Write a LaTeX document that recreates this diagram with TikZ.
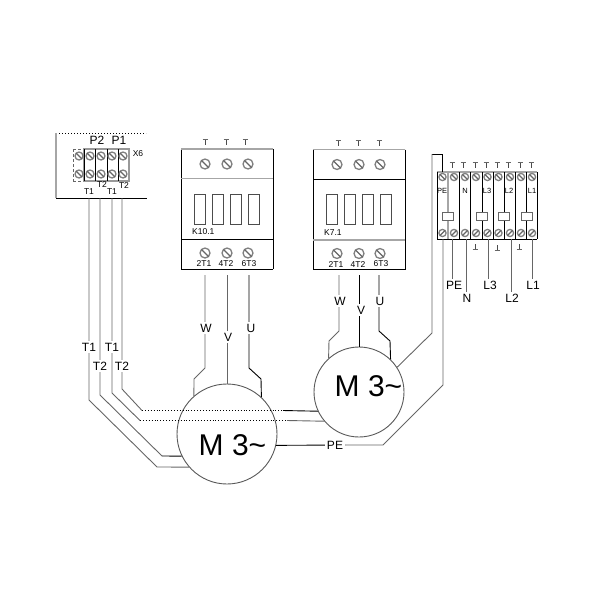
\documentclass[tikz,border=0pt]{standalone}
\usepackage{fontspec}
\setmainfont{Liberation Sans}
\tikzstyle{wiredark} = [black!60,line width=0.9pt]
\tikzstyle{wireblack} = [black,line width=0.9pt]
\tikzstyle{wiredots} = [black,line width=0.9pt,dotted]
\tikzstyle{edgegray} = [black!35,line width=1.5pt]
\tikzstyle{edgeblack} = [black,line width=1pt]
\tikzstyle{divider top} = [edgegray]
\tikzstyle{divider bottom} = [edgeblack]
\tikzstyle{wirelabel} = [fill=white,inner sep=1.5pt,font=\fontsize{12}{12}\selectfont]
\tikzstyle{tinylabel} = [inner sep=0pt,font=\fontsize{8.5}{9}\selectfont]
\tikzstyle{striplabel} = [inner sep=0pt,font=\fontsize{7.5}{8}\selectfont]
\tikzstyle{motor} = [circle,draw=black!65,fill=white,line width=0.9pt,inner sep=0pt]
\tikzstyle{motorlabel} = [inner sep=0pt,anchor=base west,font=\fontsize{30}{30}\selectfont]
\tikzstyle{fliphorz} = [xscale=-1]
\newcommand{\screw}[2][]{
 \begin{scope}[shift={(#2)},#1]
  \filldraw[black!50,fill=white,line width=1.3pt] (0,0) circle (5);
  \draw[black!60,line width=1.1pt] (-3.5,-3.5) -- (3.5,3.5);
 \end{scope}
}
\newcommand{\tick}[1]{
 \begin{scope}[shift={(#1)}]
  \draw[black!70,line width=0.8pt] (0,0) -- (0,6);
  \draw[black!60,line width=0.7pt] (-2.5,0.5) -- (2.5,0.5);
 \end{scope}
}
\newcommand{\foot}[1]{
 \begin{scope}[shift={(#1)}]
  \draw[black!70,line width=0.8pt] (0,0) -- (0,5);
  \draw[black!60,line width=0.7pt] (-2.5,5) -- (2.5,5);
 \end{scope}
}
\newcommand{\contactor}[4][]{
 \begin{scope}[shift={(#4)},#1]
  \draw[edgeblack] (0,0) -- (0,120);
  \draw[edgeblack] (92,0) -- (92,120);
  \draw[edgegray] (0,0) -- (92,0);
  \draw[edgeblack] (0,120) -- (92,120);
  \draw[divider top] (0,29.5) -- (92,29.5);
  \draw[divider bottom] (0,90.5) -- (92,90.5);
  \screw{24,15} \screw{46,15} \screw{67,15}
  \screw{24,104} \screw{46,104} \screw{67,104}
  \draw[black!70,line width=0.8pt] (13.5,45) rectangle (24.5,75);
  \draw[black!70,line width=0.8pt] (31.5,45) rectangle (42.5,75);
  \draw[black!70,line width=0.8pt] (49.5,45) rectangle (60.5,75);
  \draw[black!70,line width=0.8pt] (67.5,45) rectangle (78.5,75);
  \node[tinylabel,anchor=west] (#2 name) at (11,83) {#3};
  \node[tinylabel] (#2 a) at (23,115) {2T1};
  \node[tinylabel] (#2 b) at (45,115) {4T2};
  \node[tinylabel] (#2 c) at (68,114.5) {6T3};
 \end{scope}
}
\begin{document}
\begin{tikzpicture}[x=1pt,y=-1pt]
    \useasboundingbox (0,0) rectangle (600,600);

    % terminal block
    \draw[black,line width=1pt,dotted] (56,133) -- (146,133);
    \draw[edgegray] (56,133) -- (56,198);
    \draw[edgeblack] (56,198) -- (147,198);
    \draw[black!60,line width=0.9pt,densely dashed] (73,149) -- (73,181);
    \draw[black!60,line width=0.9pt,densely dashed] (73,149) -- (84,149);
    \draw[black!60,line width=0.9pt,densely dashed] (73,181) -- (84,181);
    \draw[black!40,line width=1.2pt] (84,149) rectangle (129,181);
    \draw[black,line width=1pt] (84,149) -- (84,181);
    \draw[black,line width=1pt] (95,149) -- (95,181);
    \draw[black,line width=1pt] (107,149) -- (107,181);
    \draw[black,line width=1pt] (118,149) -- (118,181);
    \screw[scale=0.8]{79,156} \screw[scale=0.8]{90,156} \screw[scale=0.8]{101,156} \screw[scale=0.8]{112,156} \screw[scale=0.8]{123,156}
    \screw[scale=0.8]{79,174} \screw[scale=0.8]{90,174} \screw[scale=0.8]{101,174} \screw[scale=0.8]{112,174} \screw[scale=0.8]{123,174}
    \node[wirelabel,fill=none,inner sep=0pt] (ptwo) at (97,140) {P2};
    \node[wirelabel,fill=none,inner sep=0pt] (pone) at (119,140) {P1};
    \node[tinylabel] (xsix) at (138,154) {X6};
    \node[tinylabel] (ttwoa) at (102,185) {T2};
    \node[tinylabel] (ttwob) at (124,186) {T2};
    \node[tinylabel] (tonea) at (89,192) {T1};
    \node[tinylabel] (toneb) at (112,192) {T1};
    \coordinate (outa) at (89,198);
    \coordinate (outb) at (100,198);
    \coordinate (outc) at (112,198);
    \coordinate (outd) at (122,198);

    % contactors
    \tick{205,139} \tick{226,139} \tick{245,139}
    \tikzstyle{divider top} = [edgegray] \tikzstyle{divider bottom} = [edgeblack]
     \contactor{kten}{K10.1}{181,149}
    \tick{338,140} \tick{358,140} \tick{379,140}
    \tikzstyle{divider top} = [edgeblack] \tikzstyle{divider bottom} = [edgegray]
     \contactor{kseven}{K7.1}{313,149.5}
    \coordinate (kten w) at (205,275);
    \coordinate (kten v) at (227,275);
    \coordinate (kten u) at (249,275);
    \coordinate (kseven w) at (339,275);
    \coordinate (kseven v) at (359,275);
    \coordinate (kseven u) at (379,275);

    % protection strip
    \draw[edgegray] (437,172) -- (537,172);
    \draw[edgeblack] (437,239) -- (537,239);
    \draw[edgeblack] (437,172) -- (437,239);
    \draw[edgeblack] (459.5,172) -- (459.5,239);
    \draw[edgeblack] (470.5,172) -- (470.5,239);
    \draw[edgeblack] (493,172) -- (493,239);
    \draw[edgeblack] (515,172) -- (515,239);
    \draw[edgeblack] (537,172) -- (537,239);
    \draw[edgegray] (448,172) -- (448,239);
    \draw[edgeblack] (482,172) -- (482,239);
    \draw[edgeblack] (504,172) -- (504,239);
    \draw[edgeblack] (526,172) -- (526,239);
    \filldraw[black!60,fill=white,line width=0.9pt] (442,212) rectangle (453,220);
    \filldraw[black!60,fill=white,line width=0.9pt] (476,212) rectangle (487,220);
    \filldraw[black!60,fill=white,line width=0.9pt] (498,212) rectangle (509,220);
    \filldraw[black!60,fill=white,line width=0.9pt] (521,212) rectangle (532,220);
    \screw[scale=0.72]{442.5,177} \screw[scale=0.72]{454,177} \screw[scale=0.72]{465,177} \screw[scale=0.72]{476,177} \screw[scale=0.72]{487.5,177} \screw[scale=0.72]{498.5,177} \screw[scale=0.72]{510,177} \screw[scale=0.72]{521,177} \screw[scale=0.72]{532,177}
    \screw[scale=0.72,fliphorz]{442.5,233} \screw[scale=0.72,fliphorz]{454,233} \screw[scale=0.72,fliphorz]{465,233} \screw[scale=0.72,fliphorz]{476,233} \screw[scale=0.72,fliphorz]{487.5,233} \screw[scale=0.72,fliphorz]{498.5,233} \screw[scale=0.72,fliphorz]{510,233} \screw[scale=0.72,fliphorz]{521,233} \screw[scale=0.72,fliphorz]{532,233}
    \tick{452,162} \tick{463,162} \tick{475,162} \tick{486,162} \tick{497,162} \tick{508,162} \tick{520,162} \tick{531,162}
    \foot{475,244} \foot{497,245} \foot{519,244}
    \node[striplabel] (spe) at (442,191) {PE};
    \node[striplabel] (sn) at (465,191) {N};
    \node[striplabel] (slthree) at (487,191) {L3};
    \node[striplabel] (sltwo) at (509,191) {L2};
    \node[striplabel] (slone) at (532,191) {L1};

    % motors
    \node[motor,minimum size=100pt] (motorA) at (227,434) {};
    \node[motor,minimum size=90pt] (motorB) at (359,392) {};
    \node[motorlabel] (motorAname) at (198.5,455) {M 3\char`~};
    \node[motorlabel] (motorBname) at (334.5,396) {M 3\char`~};

    % contactors to motors
    \draw[wiredark] (kten w) -- (205,368) -- (194,379) -- (motorA.131);
    \draw[wiredark] (kten v) -- (motorA.90);
    \draw[wireblack] (kten u) -- (249,368) -- (261,379) -- (motorA.47);
    \draw[wiredark] (kseven w) -- (339,331) -- (329,341) -- (motorB.132);
    \draw[wireblack] (kseven v) -- (motorB.90);
    \draw[wireblack] (kseven u) -- (379,331) -- (390,341) -- (motorB.46);

    % terminal block to motors
    \draw[wiredark] (outa) -- (89,400) -- (157,467) -- (motorA.221);
    \draw[wiredark] (outb) -- (100,395) -- (162,456);
    \draw[wireblack] (162,456) -- (motorA.206);
    \draw[wiredark] (outc) -- (112,393) -- (140,420.5);
    \draw[wiredark] (outd) -- (122,389) -- (142,410.5);
    \draw[wiredots] (142,410.5) -- (283,410.5);
    \draw[wireblack] (283,410.5) -- (motorB.205);
    \draw[wiredots] (140,420.5) -- (287,420.5);
    \draw[wiredark] (287,420.5) -- (motorB.220);

    % strip wires
    \coordinate (pea) at (443,239);
    \coordinate (peb) at (442,172);
    \draw[wiredark] (pea) -- (443,385) -- (383,445) -- (345,445);
    \draw[wireblack] (345,445) -- (motorA.347);
    \draw[wireblack] (peb) -- (442,154) -- (432,154);
    \draw[wiredark] (432,154) -- (432,333) -- (motorB.33);
    \draw[wiredark] (452,239) -- (452,279);
    \draw[wiredark] (466,239) -- (466,295);
    \draw[wiredark] (488,239) -- (488,279);
    \draw[wiredark] (511,239) -- (511,292);
    \draw[wiredark] (532,239) -- (532,279);

    % labels
    \node[wirelabel] (ltonea) at (89,347) {T1};
    \node[wirelabel] (ltoneb) at (112,347) {T1};
    \node[wirelabel] (lttwoa) at (100,366) {T2};
    \node[wirelabel] (lttwob) at (122,366) {T2};
    \node[wirelabel] (lkw) at (206,328) {W};
    \node[wirelabel] (lkv) at (228,337) {V};
    \node[wirelabel] (lku) at (251,328) {U};
    \node[wirelabel] (lmw) at (340,301) {W};
    \node[wirelabel] (lmv) at (361,310) {V};
    \node[wirelabel] (lmu) at (380,301) {U};
    \node[wirelabel] (lpem) at (335,445) {PE};
    \node[wirelabel] (lpe) at (454,285) {PE};
    \node[wirelabel] (ln) at (467,298) {N};
    \node[wirelabel] (llthree) at (490,285) {L3};
    \node[wirelabel] (lltwo) at (512,298) {L2};
    \node[wirelabel] (llone) at (533,285) {L1};
\end{tikzpicture}
\end{document}
